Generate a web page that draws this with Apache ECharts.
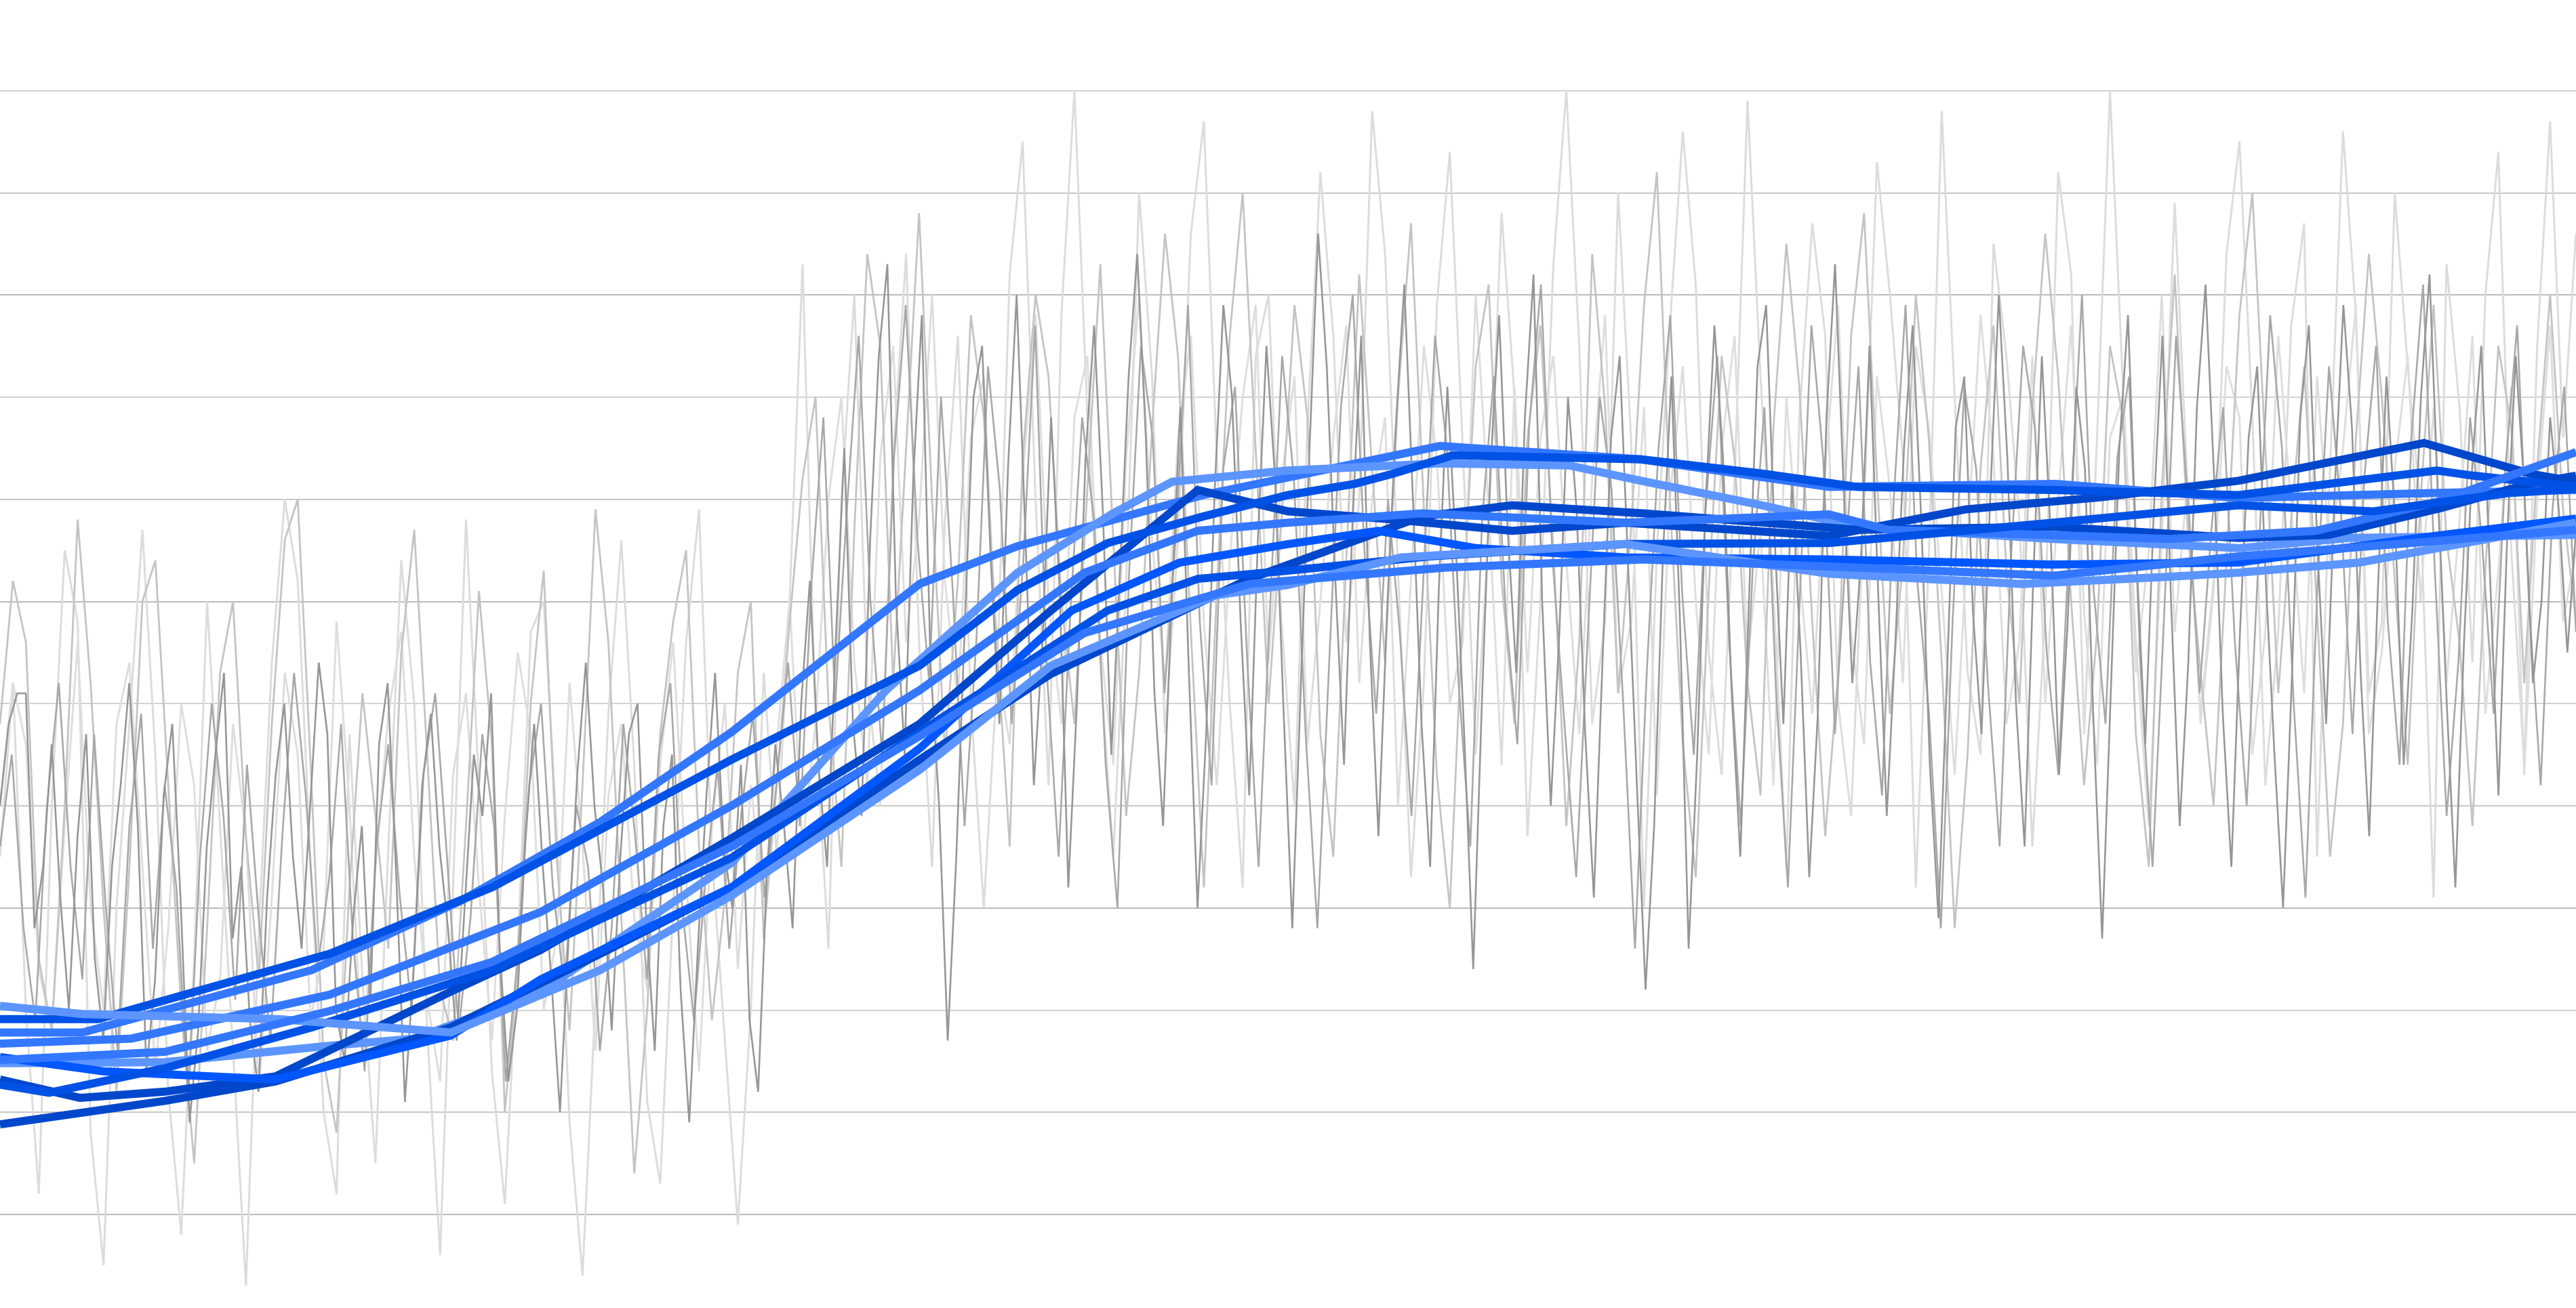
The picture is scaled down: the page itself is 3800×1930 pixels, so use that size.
<!DOCTYPE html>
<html>
<head>
<meta charset="utf-8">
<script src="https://cdn.jsdelivr.net/npm/echarts@6/dist/echarts.min.js"></script>
<style>
html,body{margin:0;padding:0;background:#ffffff;}
#chart{width:3800px;height:1930px;}
</style>
</head>
<body>
<div id="chart"></div>
<script>
// ---- noisy observation series (index-based) ----
const noiseDark = [
50,58,61,61,38,44,56,41,30,47, 57,35,27,44,52,62,48,24,33,51,
58,40,19,28,46,55,63,37,44,29, 22,41,53,60,45,36,50,64,57,30,
25,39,48,31,56,62,43,21,34,52, 59,46,38,27,41,55,49,61,36,23,
30,47,58,44,33,20,37,53,64,50, 42,28,45,57,60,39,26,48,55,32,
19,36,51,63,46,40,54,29,22,43, 56,48,38,60,72,54,44,66,85,58,
49,76,94,103,70,55,82,98,64,50, 27,45,68,90,95,74,58,83,100,77,
52,66,88,71,42,60,84,97,79,55, 73,92,104,86,61,48,70,89,63,40,
57,81,99,90,68,51,76,95,82,59, 38,62,85,106,93,72,54,78,96,66,
47,69,87,101,80,58,44,71,91,75, 56,34,60,83,98,77,63,88,102,70,
50,67,90,79,57,41,64,86,94,73, 52,32,48,74,92,68,36,55,80,97,
84,61,45,70,93,99,76,58,82,65, 43,59,88,103,81,62,74,95,71,49,
66,85,97,78,54,39,63,87,92,69, 57,80,100,84,60,46,72,94,77,53,
68,91,83,58,37,61,85,98,74,56, 79,96,70,48,64,89,101,82,59,44,
67,86,93,72,55,40,62,88,97,75, 58,81,99,87,63,47,71,92,78,54,
69,90,102,80,60,42,66,84,95,73, 51,76,94,81,62,70,88,79,65,77
];
const noiseDark2 = [
46,55,38,29,50,62,44,33,57,40, 26,48,59,36,52,42,21,45,60,49,
31,54,39,27,47,63,51,34,43,58, 37,24,46,56,41,30,53,61,45,28,
39,57,48,23,35,52,60,42,32,50, 44,26,38,58,47,33,55,62,40,29,
43,54,36,49,59,41, 52,64,48,72,88,60,79,96,70,55,84,99,76,62,
90,71,48,66,93,81,58,74,97,63, 45,69,88,78,54,40,73,95,86,61,
77,99,68,52,83,91,65,44,70,94, 82,57,38,64,89,100,75,59,80,67,
49,72,96,85,62,46,78,92,69,56, 87,101,74,58,43,67,90,81,60,36,
63,85,98,71,55,79,94,66,48,73, 89,61,42,70,97,84,57,76,93,64,
51,80,99,72,59,38,68,91,83,62, 46,75,95,87,65,53,78,100,71,58,
84,92,63,44,69,96,80,61,77,89, 66,50,74,98,85,60,41,71,93,79,
57,82,95,68,54,86,101,73,49,64, 88,76,59,83,97,70,52,79,91,67
];
const noiseMid = [
58,72,66,35,28,50,78,62,40,22, 44,70,74,52,30,15,38,63,70,47,
33,58,76,80,54,25,18,42,61,49, 36,65,77,55,32,27,48,71,56,20,
34,60,73,45,28,52,79,66,39,14, 30,57,68,75,46,29,41,63,70,37,
52,68,82,90,60,44,77,104,95,62, 85,108,80,55,72,98,88,66,46,84,
100,92,70,58,81,103,76,49,63,87, 106,94,67,42,71,96,110,85,60,78,
99,88,57,45,74,102,83,64,90,107, 79,53,40,69,93,101,72,58,86,97,
75,48,66,104,89,61,77,99,112,80, 56,43,71,94,84,62,51,87,105,91,
68,47,63,96,108,82,59,74,100,86, 64,38,55,83,97,73,60,89,106,92,
70,52,67,95,88,57,44,81,102,77, 63,50,74,98,110,85,61,78,93,69,
45,58,86,104,90,72,54,80,99,76, 66,48,73,95,87,62,83,100,79,68
];
const noiseLightA = [
45,62,30,12,50,75,68,18,5,40, 58,77,55,22,8,35,70,48,26,3,
38,64,80,72,44,20,12,57,33,15, 46,74,60,28,6,42,78,52,24,11,
36,67,70,48,19,4,31,59,76,54, 21,13,40,66,79,45,27,9,30,63,
45,70,103,58,36,80,100,62,50,84, 104,66,44,78,96,60,40,62,102,115,
80,52,98,120,88,64,45,72,110,92, 57,76,106,117,84,60,42,94,100,68,
50,87,112,96,66,80,118,104,73,43, 62,99,114,85,55,77,108,90,47,70,
103,120,95,58,68,110,86,40,75,97, 116,101,65,53,82,119,92,71,44,88,
107,96,60,49,79,113,100,84,42,74, 118,90,63,55,105,94,78,46,69,112,
102,57,86,120,91,66,48,76,109,81, 59,72,104,115,88,52,67,97,107,45,
83,116,98,61,68,110,93,79,41,103, 89,64,100,114,75,54,95,117,86,106
];
const noiseLightB = [
50,62,56,34,28,48,66,40,30,58, 64,44,24,38,60,52,26,33,58,47,
22,41,63,55,29,36,68,50,25,44, 59,67,45,31,23,53,61,42,27,49,
65,57,30,37,62,46,26,51,58,39, 32,54,66,43,24,48,60,34,52,40,
56,70,46,58,80,90,64,52,84,95, 66,78,100,72,60,86,92,64,56,82,
98,70,58,88,94,66,54,84,100,76, 62,86,96,68,52,74,90,99,64,82,
92,56,70,86,97,62,80,88,50,72, 95,84,60,66,100,79,54,91,63,86,
94,74,57,82,98,61,68,89,51,80, 93,70,55,85,96,64,77,52,90,73,
59,83,99,67,56,92,81,62,95,87, 71,53,76,98,84,58,66,94,60,80,
97,69,54,86,90,63,75,100,67,82, 58,71,93,88,55,67,96,79,61,92,
74,85,99,57,65,83,94,70,89,62, 78,96,59,73,91,53,80,97,68,75
];

// ---- trend series: [x, value] ----
const trend1 = [[0,27.8],[3.2,27.8],[12.1,33.9],[17.9,40.7],[23.3,48.4],[28.4,57.2],[35.7,71.7],[39.5,75.4],[46.7,80.4],[55.9,85.2],[63.7,83.9],[71.0,81.2],[79.8,81.5],[86.9,80.1],[94.4,80.6],[100,80.9]];
const trend2 = [[0,24.8],[6.4,24.9],[12.8,26.5],[16.1,27.2],[21.0,31.8],[28.4,44.4],[34.4,61.3],[39.5,72.8],[43.2,78.6],[45.5,81.7],[50.0,82.8],[55.9,83.5],[60.9,83.3],[63.7,81.8],[68.4,79.4],[72.1,77.3],[79.7,76.1],[86.9,75.2],[91.2,76.2],[100,76.5]];
const trend3 = [[0,23.2],[3.1,21.4],[6.4,22.0],[10.7,23.5],[17.5,31.8],[21.0,35.9],[28.4,46.8],[35.7,58.0],[40.8,69.1],[46.5,80.9],[50.0,78.8],[54.2,78.0],[58.7,76.9],[63.1,77.7],[71.0,76.4],[76.3,79.0],[81.6,80.2],[86.9,81.8],[94.1,85.5],[98.2,82.5],[100,81.7]];
const trend4 = [[0,18.8],[6.4,21.1],[10.7,23.0],[17.5,28.3],[23.3,35.5],[28.4,42.0],[35.7,54.5],[40.8,62.9],[48.5,72.2],[55.2,78.3],[58.7,79.4],[63.8,78.6],[72.1,77.0],[79.7,77.3],[86.9,76.2],[90.4,76.5],[94.7,79.1],[98.2,81.5],[100,82.3]];
const trend5 = [[0,29.1],[3.8,29.1],[12.8,35.5],[19.1,42.0],[28.4,54.5],[35.7,63.7],[39.5,71.1],[43.0,75.7],[46.7,78.3],[50.0,80.4],[52.6,81.5],[54.1,82.5],[56.4,84.3],[63.7,83.9],[68.4,82.5],[72.1,81.2],[79.7,80.9],[86.9,80.4],[94.6,82.8],[96.0,82.3],[100,81.2]];
const trend6 = [[0,26.7],[5.1,27.2],[12.8,31.5],[21.0,39.6],[28.4,50.0],[35.7,61.3],[42.1,72.8],[46.5,76.9],[50.0,77.7],[55.2,78.6],[63.1,77.7],[71.0,78.5],[73.3,77.0],[84.2,76.1],[89.9,76.9],[94.7,79.8],[100,84.6]];
const trend7 = [[0,25.4],[4.0,24.0],[10.7,23.2],[17.5,27.5],[21.0,33.0],[28.4,42.0],[35.7,55.6],[41.6,69.1],[45.8,73.8],[50.0,75.6],[53.5,76.9],[57.3,75.2],[63.1,74.3],[71.0,74.1],[79.7,73.6],[86.9,73.8],[93.9,76.2],[100,78.1]];
const trend8 = [[0,22.7],[1.9,21.9],[6.4,24.3],[12.1,28.3],[19.1,33.9],[28.4,44.9],[35.7,57.2],[43.0,69.1],[46.5,72.2],[50.0,73.0],[55.5,74.4],[63.1,75.6],[71.0,75.7],[79.7,77.7],[86.9,79.4],[92.1,78.8],[97.4,80.6],[100,81.0]];
const trend9 = [[0,30.4],[3.2,29.6],[10.8,29.1],[17.5,27.8],[23.3,33.9],[28.4,41.2],[35.7,53.5],[40.8,63.7],[47.2,70.6],[50.0,71.6],[54.4,74.3],[63.1,75.6],[71.0,72.7],[78.5,71.7],[84.2,72.4],[86.9,72.8],[91.6,73.8],[100,77.7]];
const trend10 = [[0,25.1],[6.4,25.9],[12.8,29.9],[19.1,34.7],[28.4,46.0],[35.7,56.8],[42.1,66.9],[48.5,71.7],[56.1,73.3],[63.8,74.1],[72.1,73.3],[79.7,72.5],[86.9,74.4],[93.6,75.7],[100,77.0]];

const trendSeries = [trend1,trend2,trend3,trend4,trend5,trend6,trend7,trend8,trend9,trend10];
const trendColors = ['#3377ff','#5c95ff','#0047cc','#0047cc','#0052e6','#3377ff','#0057ff','#0052e6','#5c95ff','#3377ff'];

const gridLineColors = ['#c4c4c4','#a4a4a4','#b4b4b4'];

function indexed(arr){ return arr.map((v,i)=>[i,v]); }

const series = [];
const noiseDefs = [
  {data: noiseLightA, color:'#dcdcdc', axis:2, w:3},
  {data: noiseLightB, color:'#dedede', axis:2, w:3},
  {data: noiseMid, color:'#c4c4c4', axis:2, w:2.8},
  {data: noiseDark2, color:'#a8a8a8', axis:3, w:2.6},
  {data: noiseDark, color:'#969696', axis:1, w:2.6}
];
noiseDefs.forEach(d=>{
  series.push({
    type:'line', xAxisIndex:d.axis, yAxisIndex:0,
    data: indexed(d.data), showSymbol:false, silent:true,
    lineStyle:{color:d.color, width:d.w}
  });
});
trendSeries.forEach((t,k)=>{
  series.push({
    type:'line', xAxisIndex:0, yAxisIndex:0,
    data:t, showSymbol:false, silent:true,
    lineStyle:{color:trendColors[k], width:12, join:'miter'}
  });
});

const chart = echarts.init(document.getElementById('chart'), null, {renderer:'canvas'});
chart.setOption({
  animation:false,
  backgroundColor:'#ffffff',
  grid:{left:0, right:0, top:133.5, height:1809, containLabel:false, outerBoundsMode:'none'},
  xAxis:[
    {type:'value', min:0, max:100, show:false},
    {type:'value', min:0, max:noiseDark.length-1, show:false},
    {type:'value', min:0, max:noiseMid.length-1, show:false},
    {type:'value', min:0, max:noiseDark2.length-1, show:false}
  ],
  yAxis:{
    type:'value', min:0, max:120, interval:10,
    axisLine:{show:false}, axisTick:{show:false}, axisLabel:{show:false},
    splitLine:{show:true, lineStyle:{color:gridLineColors, width:1.5}}
  },
  series: series
});
</script>
</body>
</html>
